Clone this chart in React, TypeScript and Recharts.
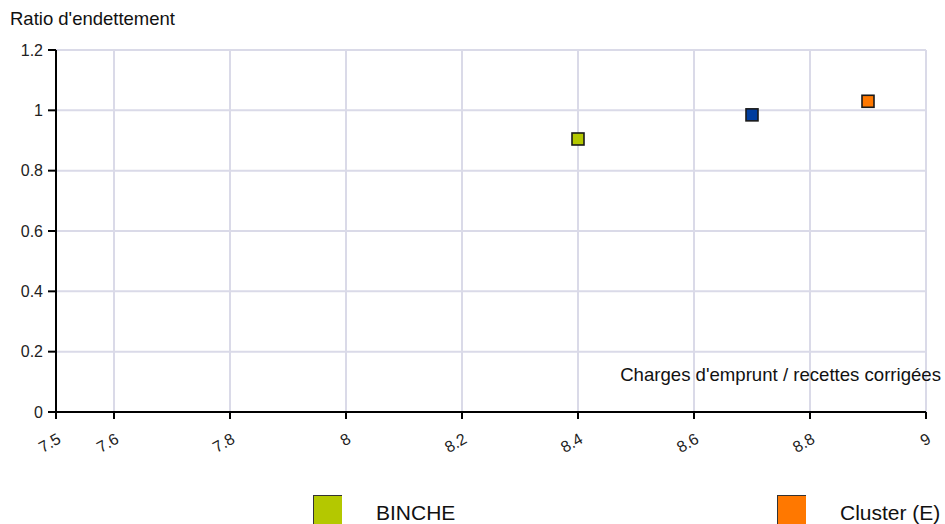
import React from 'react';
import { ScatterChart, Scatter, XAxis, YAxis, CartesianGrid } from 'recharts';

const seriesNames = ['BINCHE', 'Moyenne', 'Cluster (E)'];
const seriesColors = ['#b4c800', '#003d9e', '#ff7800'];
const xValues = [8.4, 8.7, 8.9];
const yValues = [0.905, 0.985, 1.03];
const legendNames = ['BINCHE', 'Cluster (E)'];
const legendColors = ['#b4c800', '#ff7800'];
const xTicks = [7.5, 7.6, 7.8, 8, 8.2, 8.4, 8.6, 8.8, 9];
const xTickLabels = ['7.5', '7.6', '7.8', '8', '8.2', '8.4', '8.6', '8.8', '9'];
const yTicks = [0, 0.2, 0.4, 0.6, 0.8, 1, 1.2];
const yTickLabels = ['0', '0.2', '0.4', '0.6', '0.8', '1', '1.2'];
const xTitle = "Charges d'emprunt / recettes corrigées";
const yTitle = "Ratio d'endettement";

const FONT = '"Liberation Sans", Arial, sans-serif';

const Square = (props: any) => {
  const { cx, cy, fill } = props;
  return <rect x={cx - 6} y={cy - 6} width={12} height={12} fill={fill} stroke="#1a1a1a" strokeWidth={1.6} />;
};

const XTick = (props: any) => {
  const { x, y, payload } = props;
  const i = xTicks.indexOf(payload.value);
  const label = i >= 0 ? xTickLabels[i] : String(payload.value);
  return (
    <g transform={`translate(${x + 6},${y + 21}) rotate(-30)`}>
      <text x={0} y={0} textAnchor="end" fontSize={16} fontFamily={FONT} fill="#222">{label}</text>
    </g>
  );
};

export default function App() {
  return (
    <div style={{ position: 'absolute', left: 0, top: 0, width: 945, height: 524, background: '#fff', overflow: 'hidden', fontFamily: FONT }}>
      <ScatterChart width={945} height={524} margin={{ top: 50, right: 19, left: 10, bottom: 72 }}>
        <CartesianGrid stroke="#dadae8" strokeWidth={2} horizontalValues={yTicks} verticalValues={xTicks} />
        <XAxis
          type="number"
          dataKey="x"
          domain={[7.5, 9]}
          ticks={xTicks}
          interval={0}
          height={40}
          tick={<XTick />}
          tickSize={7}
          axisLine={{ stroke: '#000', strokeWidth: 2 }}
          tickLine={{ stroke: '#000', strokeWidth: 2 }}
          allowDataOverflow
          label={{
            content: () => (
              <text x={941} y={381} textAnchor="end" fontSize={18.6} fontFamily={FONT} fill="#111">{xTitle}</text>
            ),
          }}
        />
        <YAxis
          type="number"
          dataKey="y"
          domain={[0, 1.2]}
          ticks={yTicks}
          interval={0}
          width={46}
          tickSize={8}
          tickMargin={5}
          tickFormatter={(v: number) => {
            const i = yTicks.indexOf(v);
            return i >= 0 ? yTickLabels[i] : String(v);
          }}
          tick={{ fontSize: 16, fontFamily: FONT, fill: '#222' }}
          axisLine={{ stroke: '#000', strokeWidth: 2 }}
          tickLine={{ stroke: '#000', strokeWidth: 2 }}
          allowDataOverflow
          label={{
            content: () => (
              <text x={10} y={25} textAnchor="start" fontSize={18.5} fontFamily={FONT} fill="#111">{yTitle}</text>
            ),
          }}
        />
        {seriesNames.map((name, i) => (
          <Scatter
            key={name}
            name={name}
            data={[{ x: xValues[i], y: yValues[i] }]}
            fill={seriesColors[i]}
            shape={<Square />}
            isAnimationActive={false}
          />
        ))}
      </ScatterChart>
      {legendNames.map((name, i) => (
        <div key={name} style={{ position: 'absolute', left: 313 + i * 464, top: 495, display: 'flex', alignItems: 'flex-start' }}>
          <div style={{ width: 28, height: 30, background: legendColors[i], borderLeft: '1px solid #333', borderTop: '1px solid #333' }} />
          <div style={{ marginLeft: 34, marginTop: 6, fontSize: 21, fontFamily: FONT, color: '#111', whiteSpace: 'nowrap' }}>{name}</div>
        </div>
      ))}
    </div>
  );
}
